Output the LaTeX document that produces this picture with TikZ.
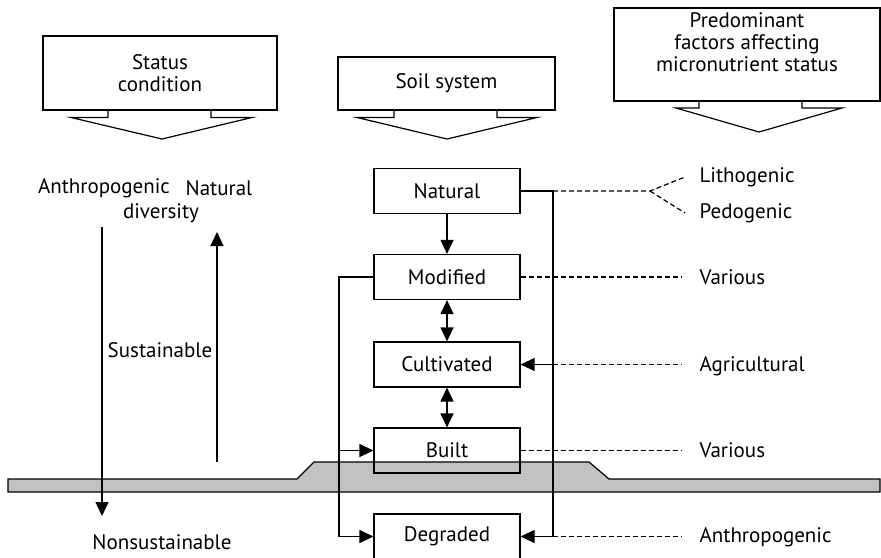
\documentclass[tikz,border=0pt]{standalone}
\usepackage{fontspec}
\setmainfont{PT Sans}
\usetikzlibrary{arrows.meta}
\definecolor{bandgray}{RGB}{193,194,196}
\begin{document}
\begin{tikzpicture}[x=0.5pt,y=-0.5pt,line width=0.6pt,
  font=\fontsize{10.5}{11}\selectfont,
  box/.style={draw,minimum width=73pt,minimum height=22.5pt,inner sep=0pt},
  head/.style={draw,align=center,inner sep=0pt},
  lbl/.style={anchor=west,inner sep=0pt},
  arr/.style={-{Triangle[length=7pt,width=6.5pt]}},
  dbl/.style={{Triangle[length=7pt,width=6.5pt]}-{Triangle[length=7pt,width=6.5pt]}},
  dashline/.style={dash pattern=on 2.5pt off 1.5pt}]
\useasboundingbox (0,0) rectangle (881,557);
% ground band
\draw[fill=bandgray] (8,479) -- (297,479) -- (314,462) -- (589,462) -- (609,479) -- (880,479)
  -- (880,492) -- (8,492) -- cycle;
% headings
\node[head,minimum width=117pt,minimum height=37pt] (status) at (160,73) {Status\\condition};
\node[head,minimum width=108.5pt,minimum height=26.5pt] (soil) at (446.5,83.5) {Soil system};
\node[head,minimum width=133pt,minimum height=46.5pt] (factors) at (747,54.5) {};
\node[align=center,inner sep=0pt] (factxt) at (747,42) {Predominant\\factors affecting\\micronutrient status};
\draw (108,110) -- (108,117.5) -- (71,117.5) -- (162,139) -- (252,117.5) -- (211,117.5) -- (211,110);
\draw (394,110) -- (394,117.5) -- (357,117.5) -- (447,139) -- (537,117.5) -- (497,117.5) -- (497,110);
\draw (699,101) -- (699,108) -- (676,108) -- (759,132) -- (842,108) -- (802,108) -- (802,101);
% soil system
\node[box] (natural) at (447,191) {Natural};
\node[box] (modified) at (447,277) {Modified};
\node[box] (cultivated) at (447,364.5) {Cultivated};
\node[box] (built) at (447,450.5) {Built};
\node[box] (degraded) at (447,536.5) {Degraded};
\draw[arr] (natural) -- (modified);
\draw[dbl] (modified) -- (cultivated);
\draw[dbl] (cultivated) -- (built);
\coordinate (lft) at (339,277);
\coordinate (rgt) at (553,191);
\draw[arr] (modified.west) -- (lft) |- (degraded.west);
\draw[arr] (lft |- built.west) -- (built.west);
\draw[arr] (natural.east) -- (rgt) |- (degraded.east);
\draw[arr] (rgt |- cultivated.east) -- (cultivated.east);
% factors
\node[lbl] (litho) at (699,177) {Lithogenic};
\node[lbl] (pedo) at (699,213) {Pedogenic};
\node[lbl] (various1) at (699,277) {Various};
\node[lbl] (agri) at (699,366) {Agricultural};
\node[lbl] (various2) at (699,450) {Various};
\node[lbl] (anthro2) at (699,537) {Anthropogenic};
\coordinate (split) at (650,191);
\draw[dashline] (rgt) -- (split) -- ([xshift=-7pt]litho.west);
\draw[dashline] (split) -- ([xshift=-7pt]pedo.west);
\draw[dashline,shorten >=8.5pt] (modified.east) -- (modified.east -| various1.west);
\draw[dashline,shorten >=8.5pt] (rgt |- cultivated.east) -- (cultivated.east -| agri.west);
\draw[dashline,shorten >=8.5pt] (built.east) -- (built.east -| various2.west);
\draw[dashline,shorten >=8.5pt] (rgt |- degraded.east) -- (degraded.east -| anthro2.west);
% status condition
\node (anthro1) at (104,188) {Anthropogenic};
\node (natlbl) at (219,188) {Natural};
\node (divlbl) at (161,213) {diversity};
\node (sust) at (160,350) {Sustainable};
\node (nonsust) at (162,542) {Nonsustainable};
\coordinate (dtop) at (102,227);
\coordinate (dbot) at (102,516);
\coordinate (utop) at (217,232);
\coordinate (ubot) at (217,462);
\draw[arr] (dtop) -- (dbot);
\draw[arr] (ubot) -- (utop);
\end{tikzpicture}
\end{document}
